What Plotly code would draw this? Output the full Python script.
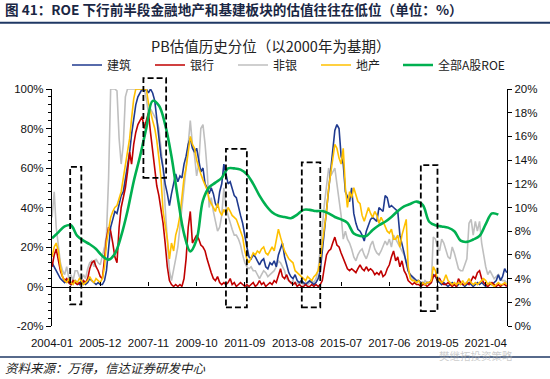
import pandas as pd
import plotly.graph_objects as go

# ---------------- data (monthly, 2004-01 .. 2022-02) ----------------
START_MONTH = "2004-01-01"
N_MONTHS = 218
months = pd.date_range(START_MONTH, periods=N_MONTHS, freq="MS")

construction = [  # 建筑
    12, 10, 8, 6, 4, 3, 2, 3, 2, 1, 2, 3,
    2, 1, 3, 2, 1, 2, 4, 3, 2, 1, 2, 1,
    1, 3, 8, 20, 30, 34, 38, 37, 42, 46, 48, 55,
    60, 68, 77, 85, 92, 96, 98, 100, 99, 100, 98, 100,
    98, 94, 85, 74, 66, 60, 52, 47, 41, 47, 52, 57,
    53, 56, 55, 62, 66, 72, 75, 70, 68, 70, 64, 58,
    60, 52, 50, 47, 50, 47, 42, 40, 48, 52, 62, 57,
    52, 53, 50, 46, 45, 40, 36, 32, 25, 20, 15, 14,
    16, 15, 13, 11, 13, 14, 10, 9, 12, 11, 13, 10,
    16, 19, 22, 15, 11, 7, 5, 4, 6, 3, 2, 3,
    2, 1, 2, 3, 2, 1, 2, 4, 8, 18, 30, 38,
    48, 60, 70, 79, 82, 80, 66, 62, 48, 45, 43, 50,
    37, 32, 29, 28, 26, 23, 28, 31, 34, 35, 34, 33,
    40, 39, 38, 46, 45, 40, 41, 40, 39, 38, 26, 22,
    17, 12, 8, 6, 5, 4, 3, 3, 2, 2, 1, 2,
    2, 3, 6, 5, 3, 2, 1, 2, 1, 0, 1, 2,
    1, 0, 1, 2, 1, 0, 1, 2, 1, 0, 1, 2,
    1, 2, 1, 0, 1, 2, 1, 2, 3, 6, 3, 5,
    9, 7,
]

banks = [  # 银行
    10, 16, 19, 13, 8, 5, 3, 4, 2, 1, 3, 2,
    1, 2, 1, 3, 2, 4, 9, 12, 13, 10, 8, 5,
    4, 14, 24, 30, 28, 22, 15, 12, 30, 40, 45, 50,
    58, 68, 62, 72, 78, 82, 84, 86, 80, 84, 88, 78,
    68, 60, 51, 46, 40, 32, 22, 10, 3, 1, 0, 1,
    0, 1, 0, 4, 14, 30, 38, 22, 24, 26, 24, 21,
    20, 18, 14, 10, 7, 4, 3, 5, 2, 1, 2, 1,
    2, 4, 1, 2, 0, 1, 2, 1, 0, 1, 0, 1,
    2, 0, 1, 3, 1, 2, 0, 1, 2, 1, 3, 2,
    6, 9, 5, 4, 6, 3, 2, 1, 2, 0, 1, 0,
    0, 1, 0, 0, 1, 0, 1, 0, 1, 3, 10, 16,
    18, 19, 22, 25, 21, 20, 17, 14, 11, 9, 8, 9,
    8, 7, 9, 11, 9, 8, 10, 8, 9, 8, 6, 7,
    6, 8, 5, 6, 9, 11, 15, 18, 13, 15, 10, 13,
    8, 6, 3, 2, 1, 2, 1, 1, 0, 1, 1, 0,
    1, 2, 5, 6, 3, 4, 2, 1, 1, 2, 1, 0,
    1, 0, 4, 2, 1, 1, 2, 1, 3, 5, 4, 7,
    8, 4, 2, 1, 0, 1, 2, 1, 0, 1, 0, 1,
    1, 0,
]

nonbank = [  # 非银
    35, 48, 30, 22, 12, 8, 6, 10, 4, 6, 3, 8,
    8, 5, 3, 6, 4, 9, 12, 13, 10, 14, 12, 11,
    15, 20, 26, 55, 100, 100, 100, 99, 75, 62, 72, 96,
    100, 100, 100, 100, 100, 100, 100, 100, 100, 95, 88, 90,
    88, 86, 84, 80, 70, 60, 40, 22, 8, 3, 8, 14,
    20, 30, 38, 50, 60, 72, 84, 72, 66, 56, 62, 80,
    82, 72, 60, 40, 45, 38, 33, 28, 30, 36, 50, 40,
    36, 32, 29, 26, 26, 24, 21, 16, 12, 10, 9, 10,
    8, 8, 6, 4, 6, 8, 7, 5, 6, 7, 8, 10,
    13, 12, 10, 8, 4, 3, 2, 3, 1, 2, 1, 2,
    1, 2, 1, 2, 3, 2, 4, 8, 18, 30, 42, 52,
    60, 56, 58, 60, 52, 44, 36, 24, 28, 24, 22, 19,
    15, 13, 16, 18, 19, 16, 14, 17, 21, 23, 19, 17,
    16, 18, 20, 23, 21, 24, 20, 26, 24, 22, 20, 18,
    16, 13, 8, 5, 4, 3, 2, 3, 2, 1, 3, 2,
    1, 2, 25, 24, 20, 18, 24, 22, 18, 15, 14, 20,
    17, 12, 9, 8, 8, 11, 14, 32, 34, 26, 33, 28,
    33, 22, 16, 10, 6, 8, 6, 4, 5, 6, 4, 3,
    3, 2,
]

real_estate = [  # 地产
    15, 20, 22, 18, 10, 5, 3, 2, 4, 2, 1, 3,
    2, 4, 3, 1, 2, 3, 5, 3, 2, 4, 3, 2,
    4, 10, 22, 30, 35, 38, 40, 41, 44, 48, 55, 62,
    68, 75, 85, 95, 100, 100, 100, 100, 100, 100, 93, 88,
    84, 80, 74, 65, 55, 38, 32, 24, 14, 22, 18, 26,
    30, 36, 45, 55, 60, 68, 76, 72, 70, 64, 60, 57,
    54, 51, 49, 44, 42, 40, 38, 42, 38, 36, 39, 37,
    40, 38, 36, 35, 34, 31, 28, 25, 18, 14, 12, 15,
    17, 16, 18, 17, 19, 20, 17, 16, 18, 20, 18, 24,
    29, 25, 21, 18, 16, 14, 13, 12, 8, 7, 6, 5,
    4, 3, 5, 4, 3, 5, 6, 8, 13, 22, 30, 38,
    50, 58, 65, 72, 70, 65, 62, 70, 50, 40, 48, 45,
    50, 46, 43, 42, 36, 33, 36, 40, 37, 35, 38, 36,
    32, 35, 33, 30, 28, 27, 29, 24, 24, 26, 20, 26,
    30, 34, 10, 4, 3, 3, 2, 3, 1, 2, 1, 2,
    2, 3, 10, 8, 4, 3, 2, 3, 6, 3, 2, 1,
    2, 1, 2, 1, 3, 1, 2, 4, 2, 1, 2, 1,
    2, 3, 4, 3, 1, 2, 1, 0, 1, 2, 1, 1,
    2, 1,
]

# 全部A股ROE (quarterly, right axis)
roe_quarters = pd.date_range(START_MONTH, periods=72, freq="3MS")
roe = [
    7.4, 7.9, 8.4, 8.5, 7.6, 7.2, 6.9, 6.5, 5.9, 5.6, 6.1, 7.6,
    9.7, 12.2, 14.3, 16.7, 19.0, 18.6, 17.0, 14.3, 10.8, 7.8, 6.3, 7.3,
    10.6, 11.7, 12.1, 12.5, 13.3, 13.3, 13.2, 12.8, 12.0, 11.0, 10.2, 9.6,
    9.3, 9.2, 9.1, 9.4, 9.8, 9.8, 9.7, 9.7, 9.5, 9.2, 9.0, 8.7,
    7.8, 7.6, 7.6, 8.1, 8.5, 8.8, 9.2, 9.7, 10.1, 10.3, 10.5, 10.2,
    8.8, 8.5, 8.4, 8.3, 8.0, 7.2, 7.1, 7.3, 7.6, 8.6, 9.5, 9.4,
]

# highlighted windows (dashed boxes): start, end, top %, bottom % (left axis)
box_start = ["2004-09-20", "2007-08-20", "2010-12-01", "2013-12-07", "2018-09-01"]
box_end = ["2005-03-01", "2008-07-15", "2011-10-01", "2014-09-01", "2019-05-01"]
box_top = [60.6, 105.5, 69.7, 62.8, 61.5]
box_bottom = [-9.0, 55.0, -10.6, -10.6, -12.5]

x_tick_labels = ["2004-01", "2005-12", "2007-11", "2009-10", "2011-09",
                 "2013-08", "2015-07", "2017-06", "2019-05", "2021-04"]
y_left_ticks = [-20, 0, 20, 40, 60, 80, 100]
y_left_labels = ["-20%", "0%", "20%", "40%", "60%", "80%", "100%"]
y_right_ticks = [0, 2, 4, 6, 8, 10, 12, 14, 16, 18, 20]
y_right_labels = ["0%", "2%", "4%", "6%", "8%", "10%", "12%", "14%", "16%", "18%", "20%"]

# ---------------- styling ----------------
W, H = 550, 379
ML, MR, MT, MB = 52, 43, 89, 52.5
PW, PH = W - ML - MR, H - MT - MB
FONT = "Liberation Sans, Noto Sans CJK SC, sans-serif"
CJK = "Noto Sans CJK SC, sans-serif"
YMIN, YMAX = -20, 100


def px_x(px):
    return (px - ML) / PW


def px_y(py):
    return (H - MB - py) / PH


fig = go.Figure()

series = [
    ("非银", nonbank, "#BFBFBF", 3),
    ("建筑", construction, "#1F3A8F", 1),
    ("银行", banks, "#C00000", 2),
    ("地产", real_estate, "#FFC000", 4),
]
for name, vals, color, rank in series:
    fig.add_trace(go.Scatter(
        x=months, y=vals, name=name, mode="lines",
        line=dict(color=color, width=1.6), legendrank=rank, legend="legend",
    ))

fig.add_trace(go.Scatter(
    x=roe_quarters, y=roe, name="全部A股ROE", mode="lines", yaxis="y2",
    line=dict(color="#00B050", width=2.6, shape="spline", smoothing=1.0),
    legend="legend2",
))

tick_dates = [pd.Timestamp(t + "-01") for t in x_tick_labels]

legend_common = dict(
    orientation="h", yanchor="middle", xanchor="left",
    font=dict(family=CJK, size=12, color="#222"),
    bgcolor="rgba(0,0,0,0)", itemwidth=30, tracegroupgap=0,
)

fig.update_layout(
    width=W, height=H,
    margin=dict(l=ML, r=MR, t=MT, b=MB, pad=0),
    paper_bgcolor="white", plot_bgcolor="white",
    font=dict(family=FONT, size=11.5, color="#111"),
    showlegend=True,
    legend=dict(x=px_x(67), y=px_y(65), entrywidth=38, **legend_common),
    legend2=dict(x=px_x(398), y=px_y(65), **legend_common),
    xaxis=dict(
        type="date",
        range=["2003-12-31", "2022-02-04"],
        tickvals=tick_dates, ticktext=x_tick_labels,
        showgrid=False, zeroline=False,
        showline=True, linecolor="black", linewidth=1.3,
        ticks="inside", ticklen=4, tickcolor="black", tickwidth=1,
        anchor="free", position=(0 - YMIN) / (YMAX - YMIN),
        ticklabelstandoff=46,
        tickfont=dict(family=FONT, size=11.5, color="#111"),
    ),
    yaxis=dict(
        range=[YMIN, YMAX], tickvals=y_left_ticks, ticktext=y_left_labels,
        showgrid=False, zeroline=False,
        showline=True, linecolor="black", linewidth=1.3,
        ticks="outside", ticklen=5, tickcolor="black", tickwidth=1,
        minor=dict(dtick=4, ticks="outside", ticklen=3, tickcolor="black",
                   tickwidth=1, showgrid=False),
        tickfont=dict(family=FONT, size=11.5, color="#111"),
    ),
    yaxis2=dict(
        range=[0, 20], tickvals=y_right_ticks, ticktext=y_right_labels,
        overlaying="y", side="right",
        showgrid=False, zeroline=False,
        showline=True, linecolor="black", linewidth=1.3,
        ticks="outside", ticklen=4, tickcolor="black", tickwidth=1,
        tickfont=dict(family=FONT, size=11.5, color="#111"),
    ),
)

# dashed boxes drawn in data coordinates (x) and axis-domain fractions (y)
for s, e, top, bot in zip(box_start, box_end, box_top, box_bottom):
    fig.add_shape(
        type="rect", xref="x", yref="y domain",
        x0=s, x1=e,
        y0=(bot - YMIN) / (YMAX - YMIN), y1=(top - YMIN) / (YMAX - YMIN),
        line=dict(color="black", width=1.8, dash="6px,3px"),
        fillcolor="rgba(0,0,0,0)", layer="above",
    )

# header / footer rules
NAVY = "#1F3864"
fig.add_shape(type="line", xref="paper", yref="paper",
              x0=px_x(0), x1=px_x(W), y0=px_y(22.5), y1=px_y(22.5),
              line=dict(color=NAVY, width=2))
fig.add_shape(type="line", xref="paper", yref="paper",
              x0=px_x(0), x1=px_x(W), y0=px_y(357.5), y1=px_y(357.5),
              line=dict(color=NAVY, width=1.5))

fig.add_annotation(
    text="<b>图 41：ROE 下行前半段金融地产和基建板块的估值往往在低位（单位：%）</b>",
    xref="paper", yref="paper", x=px_x(3), y=px_y(8.5),
    xanchor="left", yanchor="middle", showarrow=False,
    font=dict(family=CJK, size=13.6, color="#1A2744"),
)
fig.add_annotation(
    text="PB估值历史分位（以2000年为基期）",
    xref="paper", yref="paper", x=px_x(270), y=px_y(45),
    xanchor="center", yanchor="middle", showarrow=False,
    font=dict(family=CJK, size=14.5, color="#222"),
)
fig.add_annotation(
    text="<i>资料来源：万得，信达证券研发中心</i>",
    xref="paper", yref="paper", x=px_x(3), y=px_y(368.5),
    xanchor="left", yanchor="middle", showarrow=False,
    font=dict(family=CJK, size=12.5, color="#222"),
)
fig.add_annotation(
    text="樊继拓投资策略",
    xref="paper", yref="paper", x=px_x(476), y=px_y(356),
    xanchor="center", yanchor="middle", showarrow=False,
    font=dict(family=CJK, size=10.5, color="rgba(170,170,170,0.6)"),
)

fig.write_html(
    "out.html",
    config={"displayModeBar": False},
    post_script="document.body.style.margin='0';document.body.style.overflow='hidden';",
)
